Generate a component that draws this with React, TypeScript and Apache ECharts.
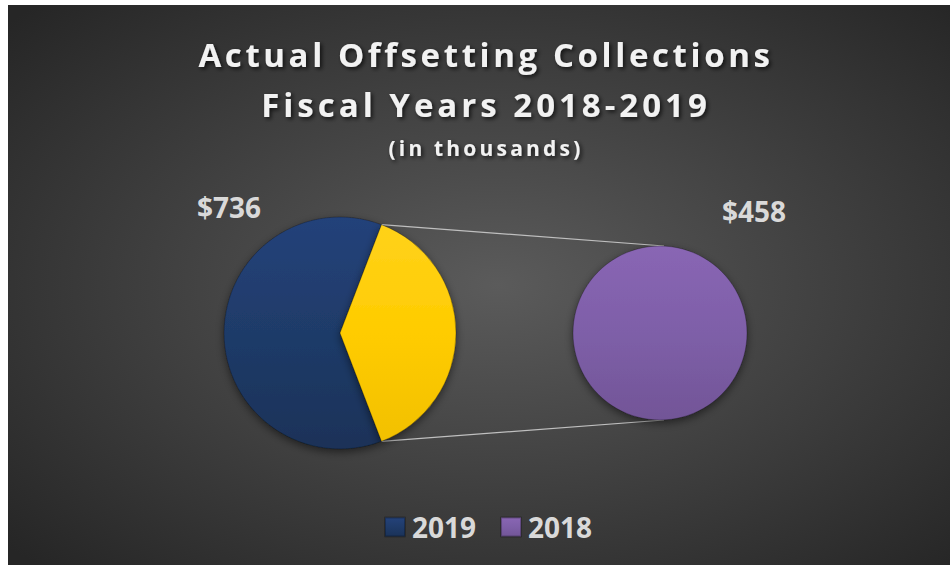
import React, { useEffect, useRef } from "react";
import * as echarts from "echarts";

const titleLines = ["Actual Offsetting Collections", "Fiscal Years 2018-2019"];
const subTitle = "(in thousands)";
const mainNames = ["2019", "Other"];
const mainValues = [736, 458];
const secondNames = ["2018"];
const secondValues = [458];
const legendNames = ["2019", "2018"];

const W = 942;
const H = 560;

export default function App() {
  const ref = useRef<HTMLDivElement>(null);
  useEffect(() => {
    document.body.style.margin = "0";
    const chart = echarts.init(ref.current!, undefined, { renderer: "svg" });
    const total = mainValues.reduce((a, b) => a + b, 0);
    const otherShare = mainValues[1] / total;
    const halfDeg = otherShare * 180;
    const c1 = [332, 328];
    const r1 = 116;
    const c2 = [652, 328];
    const r2 = 87;
    const rad = (halfDeg * Math.PI) / 180;
    const p1 = [c1[0] + r1 * Math.cos(rad), c1[1] - r1 * Math.sin(rad)];
    const p2 = [c1[0] + r1 * Math.cos(rad), c1[1] + r1 * Math.sin(rad)];
    const textShadow = {
      textShadowColor: "rgba(0,0,0,0.7)",
      textShadowBlur: 4,
      textShadowOffsetX: 2,
      textShadowOffsetY: 2,
    };
    const font = '"Open Sans", "Noto Sans", sans-serif';
    const blue = new echarts.graphic.LinearGradient(0, 0, 0, 1, [
      { offset: 0, color: "#24427a" },
      { offset: 0.5, color: "#1f3b69" },
      { offset: 1, color: "#1a3258" },
    ]);
    const yellow = new echarts.graphic.LinearGradient(0, 0, 0, 1, [
      { offset: 0, color: "#ffd21a" },
      { offset: 0.5, color: "#ffcc00" },
      { offset: 1, color: "#f2c000" },
    ]);
    const purple = new echarts.graphic.LinearGradient(0, 0, 0, 1, [
      { offset: 0, color: "#8966b4" },
      { offset: 0.5, color: "#7e5fa8" },
      { offset: 1, color: "#725597" },
    ]);
    const mainColors = [blue, yellow];
    const labelStyle = {
      show: true,
      position: "outside",
      formatter: (p: any) => "$" + p.value,
      color: "#d9d9d9",
      fontFamily: font,
      fontWeight: "bold",
      fontSize: 28,
    };
    const pieItem = {
      shadowColor: "rgba(0,0,0,0.5)",
      shadowBlur: 8,
      shadowOffsetY: 3,
      borderColor: "rgba(0,0,0,0.25)",
      borderWidth: 1,
    };
    chart.setOption({
      animation: false,
      graphic: [
        {
          type: "rect",
          z: -10,
          silent: true,
          shape: { x: 0, y: 0, width: W, height: H },
          style: {
            fill: new echarts.graphic.RadialGradient(0.52, 0.5, 0.7, [
              { offset: 0, color: "#5b5b5b" },
              { offset: 1, color: "#262626" },
            ]),
          },
        },
        {
          type: "line",
          z: 1,
          silent: true,
          shape: { x1: p1[0], y1: p1[1], x2: c2[0] + 4, y2: c2[1] - r2 },
          style: { stroke: "#bfbfbf", lineWidth: 1.2 },
        },
        {
          type: "line",
          z: 1,
          silent: true,
          shape: { x1: p2[0], y1: p2[1], x2: c2[0] + 4, y2: c2[1] + r2 },
          style: { stroke: "#bfbfbf", lineWidth: 1.2 },
        },
      ],
      title: {
        text: titleLines.join("\n"),
        subtext: subTitle,
        left: 473,
        top: 19,
        textAlign: "center",
        itemGap: 6,
        textStyle: {
          color: "#f2f2f2",
          fontFamily: font,
          fontWeight: "bold",
          fontSize: 33,
          lineHeight: 50,
          ...textShadow,
        },
        subtextStyle: {
          color: "#f2f2f2",
          fontFamily: font,
          fontWeight: "bold",
          fontSize: 21,
          lineHeight: 26,
          ...textShadow,
        },
      },
      legend: {
        data: legendNames,
        bottom: 19,
        left: 371,
        icon: "rect",
        itemWidth: 20,
        itemHeight: 19,
        itemGap: 24,
        textStyle: {
          color: "#d9d9d9",
          fontFamily: font,
          fontWeight: "bold",
          fontSize: 28,
          padding: [0, 0, 0, 2],
        },
      },
      series: [
        {
          type: "pie",
          center: c1,
          radius: r1,
          startAngle: -halfDeg,
          clockwise: true,
          avoidLabelOverlap: false,
          silent: true,
          itemStyle: pieItem,
          label: labelStyle,
          labelLine: { show: false },
          labelLayout: { x: 221, y: 202, align: "center", verticalAlign: "middle" },
          data: mainNames.map((n, i) => ({
            name: n,
            value: mainValues[i],
            itemStyle: { color: mainColors[i] },
            label: { show: i === 0 },
          })),
        },
        {
          type: "pie",
          center: c2,
          radius: r2,
          avoidLabelOverlap: false,
          silent: true,
          itemStyle: { ...pieItem, color: purple },
          label: labelStyle,
          labelLine: { show: false },
          labelLayout: { x: 746, y: 206, align: "center", verticalAlign: "middle" },
          data: secondNames.map((n, i) => ({ name: n, value: secondValues[i] })),
        },
      ],
    });
    // widen the title's letter spacing like the original
    const spacing: Record<string, string> = {
      [titleLines[0]]: "3.6px",
      [titleLines[1]]: "4px",
      [subTitle]: "3.2px",
    };
    ref.current!.querySelectorAll("text").forEach((t) => {
      const s = spacing[(t.textContent || "").trim()];
      if (s) (t as any).style.letterSpacing = s;
    });
    return () => chart.dispose();
  }, []);
  return (
    <div
      ref={ref}
      style={{ position: "absolute", left: 8, top: 5, width: W, height: H }}
    />
  );
}
